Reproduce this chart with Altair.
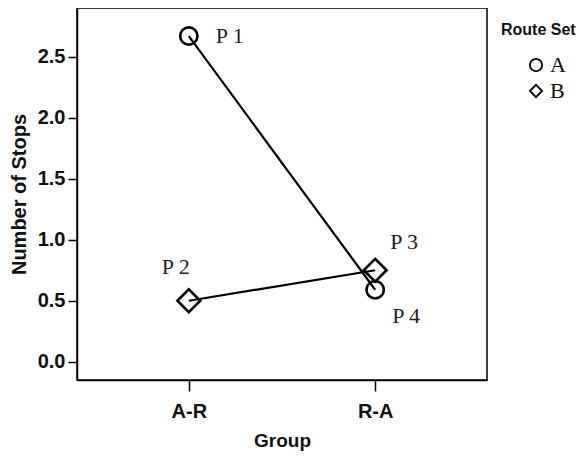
import altair as alt
import pandas as pd

groups = ["A-R", "R-A", "A-R", "R-A"]
route_sets = ["A", "A", "B", "B"]
stops = [2.67, 0.59, 0.5, 0.75]
labels = ["P 1", "P 4", "P 2", "P 3"]

df = pd.DataFrame({"Group": groups, "Route Set": route_sets,
                   "Stops": stops, "Label": labels})

SANS = "Liberation Sans"
SERIF = "Liberation Serif"

x = alt.X("Group:N", title="Group",
          scale=alt.Scale(type="point", padding=0.6, domain=["A-R", "R-A"]),
          axis=alt.Axis(labelAngle=0, tickSize=11, labelPadding=10, titlePadding=10,
                        titleFontSize=19))
y = alt.Y("Stops:Q", title="Number of Stops",
          scale=alt.Scale(domain=[-0.15, 2.9], nice=False, zero=False),
          axis=alt.Axis(values=[0, 0.5, 1.0, 1.5, 2.0, 2.5], format=".1f",
                        tickSize=9, labelPadding=3, titlePadding=8, grid=False))

shape = alt.Shape("Route Set:N",
                  scale=alt.Scale(domain=["A", "B"], range=["circle", "diamond"]),
                  legend=alt.Legend(title="Route Set"))

base = alt.Chart(df)

lines = base.mark_line(color="black", strokeWidth=2.2).encode(
    x=x, y=y, detail="Route Set:N")

point_sizes = {"A": 300, "B": 520}
point_layers = []
for rs, sz in point_sizes.items():
    point_layers.append(
        base.transform_filter(alt.datum["Route Set"] == rs).mark_point(
            filled=False, color="black", strokeWidth=2.6, opacity=1, size=sz
        ).encode(x=x, y=y, shape=shape))

offsets = {"P 1": (27, 0, "left"), "P 2": (-13, -34, "center"),
           "P 3": (15, -28, "left"), "P 4": (17, 26, "left")}
texts = []
for lab, (dx, dy, al) in offsets.items():
    texts.append(
        base.transform_filter(alt.datum.Label == lab).mark_text(
            font=SERIF, fontSize=22, color="#222", dx=dx, dy=dy, align=al,
            baseline="middle").encode(x=x, y=y, text="Label:N"))

chart = alt.layer(lines, *point_layers, *texts).properties(
    width=410, height=372,
    autosize=alt.AutoSizeParams(type="none"),
    padding={"left": 69, "top": 0, "right": 93, "bottom": 72},
).configure_view(
    stroke="black", strokeWidth=1.5
).configure_axis(
    domainColor="black", domainWidth=1.5, tickColor="black", tickWidth=1.5,
    labelFont=SANS, labelFontSize=20, labelFontWeight="bold", labelColor="#111",
    titleFont=SANS, titleFontSize=20, titleFontWeight="bold", titleColor="#111",
).configure_legend(
    orient="none", legendX=424, legendY=14, padding=0,
    titleFont=SANS, titleFontSize=16, titleFontWeight="bold", titleColor="#111",
    labelFont=SERIF, labelFontSize=22, labelColor="#111",
    symbolStrokeColor="black", symbolStrokeWidth=1.8, symbolSize=150,
    symbolFillColor="white", symbolOffset=24, titlePadding=16, rowPadding=4,
    labelOffset=3,
)

chart.save("out.html", embed_options={"renderer": "svg", "actions": False})
